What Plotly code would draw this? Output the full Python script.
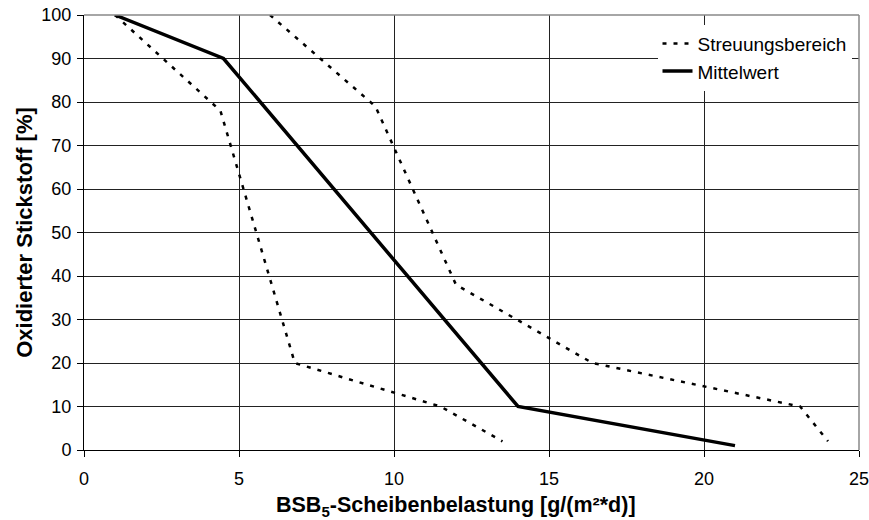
import plotly.graph_objects as go

# Data
mean_x = [1, 4.5, 14, 21]
mean_y = [100, 90, 10, 1]

lower_x = [1, 4.4, 6.8, 11.5, 13.5]
lower_y = [100, 78, 20, 10, 2]

upper_x = [6, 9.4, 12, 16.4, 23.1, 24]
upper_y = [100, 79, 38, 20, 10, 2]

x_ticks = [0, 5, 10, 15, 20, 25]
y_ticks = [0, 10, 20, 30, 40, 50, 60, 70, 80, 90, 100]

FONT = "Liberation Sans, Arial, sans-serif"
dot_style = dict(color="black", width=2.5, dash="4px,7px")

fig = go.Figure()
fig.add_trace(go.Scatter(x=lower_x, y=lower_y, mode="lines", line=dot_style,
                         name="Streuungsbereich", legendgroup="s"))
fig.add_trace(go.Scatter(x=upper_x, y=upper_y, mode="lines", line=dot_style,
                         name="Streuungsbereich", legendgroup="s", showlegend=False))
fig.add_trace(go.Scatter(x=mean_x, y=mean_y, mode="lines",
                         line=dict(color="black", width=3.5), name="Mittelwert"))

fig.update_layout(
    width=869, height=520,
    margin=dict(l=84, r=10, t=15, b=70),
    plot_bgcolor="white", paper_bgcolor="white",
    font=dict(family=FONT, size=18, color="black"),
    showlegend=True,
    legend=dict(x=0.74, y=0.978, xanchor="left", yanchor="top",
                bgcolor="white", font=dict(family=FONT, size=19, color="black"),
                tracegroupgap=0, itemwidth=30),
    xaxis=dict(range=[0, 25], tickvals=x_ticks, showgrid=True, gridcolor="#222", gridwidth=1,
               showline=True, linecolor="black", linewidth=1, ticks="outside", ticklen=6,
               tickcolor="black", zeroline=False, automargin=False, ticklabelstandoff=6,
               ticklabeloverflow="allow", tickfont=dict(family=FONT, size=18)),
    yaxis=dict(range=[0, 100], tickvals=y_ticks, showgrid=True, gridcolor="#222", gridwidth=1,
               showline=True, linecolor="black", linewidth=1, ticks="outside", ticklen=6,
               tickcolor="black", zeroline=False, automargin=False, ticklabelstandoff=2,
               ticklabeloverflow="allow", tickfont=dict(family=FONT, size=18),
               title=dict(text="<b>Oxidierter Stickstoff [%]</b>",
                          font=dict(family=FONT, size=22), standoff=2)),
    annotations=[
        dict(text="<b>BSB<sub>5</sub>-Scheibenbelastung [g/(m²*d)]</b>",
             xref="paper", yref="paper", x=0.48, y=-0.13, xanchor="center", yanchor="middle",
             showarrow=False, font=dict(family=FONT, size=21.5, color="black")),
    ],
    shapes=[
        dict(type="line", xref="paper", yref="paper", x0=0, x1=1, y0=1, y1=1,
             line=dict(color="#888", width=1.5), layer="above"),
        dict(type="line", xref="paper", yref="paper", x0=1, x1=1, y0=0, y1=1,
             line=dict(color="#888", width=1.5), layer="above"),
    ],
)

fig.write_html("out.html")
